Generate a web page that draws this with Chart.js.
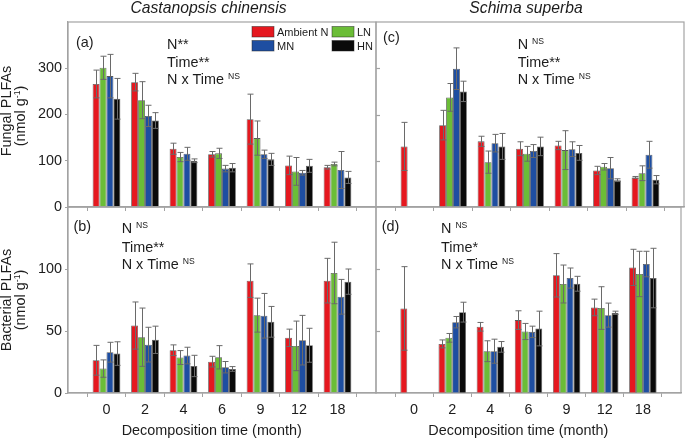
<!DOCTYPE html>
<html lang="en">
<head>
<meta charset="UTF-8">
<title>Fungal and bacterial PLFAs during decomposition</title>
<script src="https://cdn.jsdelivr.net/npm/chart.js"></script>
<style>
  body, html { margin: 0; padding: 0; width: 685px; height: 441px; overflow: hidden; background: #fff; }
  canvas { position: absolute; left: 0; top: 0; }
</style>
</head>
<body>
<canvas id="panelA" width="685" height="441"></canvas>
<canvas id="panelB" width="685" height="441"></canvas>
<canvas id="panelC" width="685" height="441"></canvas>
<canvas id="panelD" width="685" height="441"></canvas>
<script>
const months = ['0', '2', '4', '6', '9', '12', '18'];
const treatments = ['Ambient N', 'LN', 'MN', 'HN'];
const barColors = ['#e5181f', '#6bbd37', '#1e4ea1', '#0a0a0a'];
const fungalTicks = [0, 100, 200, 300];
const bacterialTicks = [0, 50, 100];

// (a) fungal PLFAs, Castanopsis chinensis
const fungalCcAmbient = [266, 270, 126, 114, 190, 90, 86];
const fungalCcAmbientSd = [30, 19, 12, 6, 54, 20, 4];
const fungalCcLN = [301, 231, 108, 116, 149, 77, 93];
const fungalCcLNSd = [25, 40, 10, 11, 37, 30, 4];
const fungalCcMN = [283, 197, 115, 83, 114, 74, 80];
const fungalCcMNSd = [47, 23, 14, 7, 9, 5, 40];
const fungalCcHN = [234, 187, 100, 85, 103, 89, 64];
const fungalCcHNSd = [44, 17, 4, 9, 13, 14, 13];

// (c) fungal PLFAs, Schima superba
const fungalSsAmbient = [131, 177, 142, 126, 133, 79, 64];
const fungalSsAmbientSd = [52, 32, 11, 15, 9, 9, 2];
const fungalSsLN = [null, 237, 97, 115, 123, 87, 73];
const fungalSsLNSd = [null, 30, 24, 16, 42, 7, 16];
const fungalSsMN = [null, 299, 138, 121, 125, 84, 113];
const fungalSsMNSd = [null, 45, 19, 14, 16, 23, 29];
const fungalSsHN = [null, 250, 131, 131, 117, 58, 59];
const fungalSsHNSd = [null, 22, 28, 20, 16, 3, 9];

// (b) bacterial PLFAs, Castanopsis chinensis
const bactCcAmbient = [26.4, 54.4, 34.5, 25.3, 90.6, 44.5, 90.6];
const bactCcAmbientSd = [12, 19, 4.3, 4.3, 13.5, 7, 18];
const bactCcLN = [19.7, 45, 28.6, 28.8, 62.8, 38, 96.8];
const bactCcLNSd = [7, 23.5, 5.6, 9.4, 13.7, 20, 24.8];
const bactCcMN = [32.9, 39, 30.2, 20.8, 62.3, 42.6, 77.6];
const bactCcMNSd = [8, 14, 6.7, 4.6, 18, 20, 14];
const bactCcHN = [31.8, 42.9, 21.8, 19.4, 57.4, 38.5, 89.8];
const bactCcHNSd = [9.5, 11, 8.6, 1.9, 12.4, 13.7, 10.2];

// (d) bacterial PLFAs, Schima superba
const bactSsAmbient = [68.2, 39.6, 53.4, 58.8, 94.9, 69, 101.3];
const bactSsAmbientSd = [33.7, 3.2, 3.5, 7.5, 17.5, 6.7, 14.6];
const bactSsLN = [null, 44.5, 33.7, 49.6, 87.9, 68.5, 96];
const bactSsLNSd = [null, 3.5, 8.4, 6.5, 15.3, 17.2, 18.3];
const bactSsMN = [null, 57.1, 33.7, 49.3, 92.7, 62.8, 104];
const bactSsMNSd = [null, 4.6, 9.7, 4.6, 8.1, 9.7, 10.3];
const bactSsHN = [null, 65.2, 37.2, 52, 88.1, 64.7, 92.7];
const bactSsHNSd = [null, 8, 4.3, 14, 6, 1.3, 24];

const FONT = '"Liberation Sans", Arial, Helvetica, sans-serif';
const FRAME = '#a3a3a3';
const INK = '#1c1c1c';
Chart.defaults.font.family = FONT;

// empty category at each end so the groups sit one slot in from the frame
const pad = arr => [null, ...arr, null];

function makeDatasets(means, sds) {
  return treatments.map((t, i) => ({
    label: t,
    data: pad(means[i]),
    sd: pad(sds[i]),
    backgroundColor: barColors[i],
    borderColor: 'rgba(35,35,35,0.75)',
    borderWidth: 0.8,
    categoryPercentage: 0.72,
    barPercentage: 1
  }));
}

// error bars (mean +/- sd) drawn with the y scale
const errorBars = {
  id: 'errorBars',
  afterDatasetsDraw(chart) {
    const ctx = chart.ctx;
    const y = chart.scales.y;
    ctx.save();
    ctx.strokeStyle = '#6a6a6a';
    ctx.lineWidth = 1;
    chart.data.datasets.forEach((ds, i) => {
      chart.getDatasetMeta(i).data.forEach((bar, j) => {
        const v = ds.data[j], e = ds.sd[j];
        if (v == null || e == null) return;
        const x = Math.round(bar.x) + 0.5;
        const top = y.getPixelForValue(v + e);
        const bot = y.getPixelForValue(Math.max(v - e, 0));
        ctx.beginPath();
        ctx.moveTo(x, top); ctx.lineTo(x, bot);
        ctx.moveTo(x - 3, top); ctx.lineTo(x + 3, top);
        ctx.moveTo(x - 3, bot); ctx.lineTo(x + 3, bot);
        ctx.stroke();
      });
    });
    ctx.restore();
  }
};

// box around each panel, inward ticks on the shared border
const frame = {
  id: 'frame',
  afterDraw(chart, args, opts) {
    const ctx = chart.ctx, a = chart.chartArea, y = chart.scales.y;
    ctx.save();
    ctx.strokeStyle = FRAME;
    ctx.lineWidth = 1.2;
    ctx.strokeRect(a.left, a.top, a.right - a.left, a.bottom - a.top);
    (opts.innerTicks || []).forEach(v => {
      const py = Math.round(y.getPixelForValue(v)) + 0.5;
      ctx.beginPath();
      ctx.moveTo(a.left, py); ctx.lineTo(a.left + 4, py);
      ctx.stroke();
    });
    ctx.restore();
  }
};

// free text: "abc ^{sup}" marks a superscript
const panelText = {
  id: 'panelText',
  afterDraw(chart, args, opts) {
    const ctx = chart.ctx;
    (opts.items || []).forEach(it => {
      const size = it.size || 14.4;
      const style = it.italic ? 'italic ' : '';
      const parts = it.text.split(/\^\{(.*?)\}/).map((t, k) => ({ t, sup: k % 2 === 1 }));
      ctx.save();
      ctx.fillStyle = INK;
      ctx.textBaseline = 'alphabetic';
      ctx.textAlign = 'left';
      ctx.translate(it.x, it.y);
      if (it.rotate) ctx.rotate(-Math.PI / 2);
      let w = 0;
      parts.forEach(p => {
        ctx.font = style + (p.sup ? size * 0.6 : size) + 'px ' + FONT;
        p.w = ctx.measureText(p.t).width;
        w += p.w;
      });
      let x = it.center ? -w / 2 : 0;
      parts.forEach(p => {
        ctx.font = style + (p.sup ? size * 0.6 : size) + 'px ' + FONT;
        ctx.fillText(p.t, x, p.sup ? -size * 0.38 : 0);
        x += p.w;
      });
      ctx.restore();
    });
  }
};

// legend inside panel (a)
const boxLegend = {
  id: 'boxLegend',
  afterDraw(chart, args, opts) {
    if (!opts.show) return;
    const ctx = chart.ctx;
    const spots = [[252, 26.5, 36], [332, 26.5, 36], [252, 40.5, 49.5], [332, 40.5, 49.5]];
    ctx.save();
    chart.data.datasets.forEach((ds, i) => {
      const [bx, by, base] = spots[i];
      ctx.fillStyle = ds.backgroundColor;
      ctx.fillRect(bx, by, 22, 10.5);
      ctx.strokeStyle = 'rgba(35,35,35,0.6)';
      ctx.lineWidth = 0.8;
      ctx.strokeRect(bx, by, 22, 10.5);
      ctx.fillStyle = INK;
      ctx.font = '11px ' + FONT;
      ctx.fillText(ds.label, bx + 25, base);
    });
    ctx.restore();
  }
};

function makeChart(id, p) {
  return new Chart(document.getElementById(id), {
    type: 'bar',
    data: { labels: ['', ...months, ''], datasets: p.datasets },
    plugins: [errorBars, frame, panelText, boxLegend],
    options: {
      responsive: false,
      animation: false,
      layout: { padding: p.padding },
      plugins: {
        legend: { display: false },
        tooltip: { enabled: false },
        frame: { innerTicks: p.innerTicks },
        panelText: { items: p.texts },
        boxLegend: { show: !!p.legend }
      },
      scales: {
        x: {
          type: 'category',
          offset: false,
          grid: { drawOnChartArea: false, color: FRAME, tickLength: 4, lineWidth: 1 },
          border: { color: FRAME, width: 1.2 },
          ticks: { display: p.xLabels, font: { size: 14.4 }, color: INK, padding: 4, autoSkip: false, maxRotation: 0 },
          afterFit: s => { s.height = p.xHeight; }
        },
        y: {
          display: p.yLabels,
          min: 0,
          max: p.yMax,
          afterBuildTicks: s => { s.ticks = p.yTicks.map(v => ({ value: v })); },
          grid: { drawOnChartArea: false, color: FRAME, tickLength: 3, lineWidth: 1 },
          border: { color: FRAME, width: 1.2 },
          ticks: { font: { size: 14.4 }, color: INK, padding: 3 },
          afterFit: s => { s.width = p.yWidth; }
        }
      }
    }
  });
}

makeChart('panelA', {
  datasets: makeDatasets([fungalCcAmbient, fungalCcLN, fungalCcMN, fungalCcHN],
                         [fungalCcAmbientSd, fungalCcLNSd, fungalCcMNSd, fungalCcHNSd]),
  padding: { left: 0, top: 22, right: 309, bottom: 234 },
  xLabels: false, xHeight: 0, yLabels: true, yWidth: 68,
  yMax: 400, yTicks: fungalTicks, legend: true,
  texts: [
    { text: 'Castanopsis chinensis', x: 208.5, y: 12.7, size: 15.7, italic: true, center: true },
    { text: 'Fungal PLFAs', x: 11.2, y: 111, rotate: true, center: true },
    { text: '(nmol g^{-1})', x: 25, y: 116, rotate: true, center: true },
    { text: '(a)', x: 76, y: 46.5 },
    { text: 'N**', x: 167, y: 49.3 },
    { text: 'Time**', x: 167, y: 67.3 },
    { text: 'N x Time ^{NS}', x: 167, y: 84 }
  ]
});

makeChart('panelC', {
  datasets: makeDatasets([fungalSsAmbient, fungalSsLN, fungalSsMN, fungalSsHN],
                         [fungalSsAmbientSd, fungalSsLNSd, fungalSsMNSd, fungalSsHNSd]),
  padding: { left: 376, top: 22, right: 1, bottom: 234 },
  xLabels: false, xHeight: 0, yLabels: false, yWidth: 0,
  yMax: 400, yTicks: fungalTicks, innerTicks: fungalTicks.slice(1),
  texts: [
    { text: 'Schima superba', x: 526, y: 12.7, size: 15.7, italic: true, center: true },
    { text: '(c)', x: 383, y: 41.5 },
    { text: 'N ^{NS}', x: 517.7, y: 49.3 },
    { text: 'Time**', x: 517.7, y: 67.3 },
    { text: 'N x Time ^{NS}', x: 517.7, y: 84 }
  ]
});

makeChart('panelB', {
  datasets: makeDatasets([bactCcAmbient, bactCcLN, bactCcMN, bactCcHN],
                         [bactCcAmbientSd, bactCcLNSd, bactCcMNSd, bactCcHNSd]),
  padding: { left: 0, top: 207, right: 309, bottom: 0 },
  xLabels: true, xHeight: 48, yLabels: true, yWidth: 68,
  yMax: 150, yTicks: bacterialTicks,
  texts: [
    { text: 'Bacterial PLFAs', x: 11.2, y: 300, rotate: true, center: true },
    { text: '(nmol g^{-1})', x: 25, y: 300, rotate: true, center: true },
    { text: '(b)', x: 73.5, y: 230.5 },
    { text: 'N ^{NS}', x: 121.7, y: 233.3 },
    { text: 'Time**', x: 121.7, y: 251.7 },
    { text: 'N x Time ^{NS}', x: 121.7, y: 269.3 },
    { text: 'Decomposition time (month)', x: 211.7, y: 435.3, center: true }
  ]
});

makeChart('panelD', {
  datasets: makeDatasets([bactSsAmbient, bactSsLN, bactSsMN, bactSsHN],
                         [bactSsAmbientSd, bactSsLNSd, bactSsMNSd, bactSsHNSd]),
  padding: { left: 376, top: 207, right: 1, bottom: 0 },
  xLabels: true, xHeight: 48, yLabels: false, yWidth: 0,
  yMax: 150, yTicks: bacterialTicks, innerTicks: bacterialTicks.slice(1),
  texts: [
    { text: '(d)', x: 381.7, y: 230.5 },
    { text: 'N ^{NS}', x: 441, y: 233.3 },
    { text: 'Time*', x: 441, y: 251.7 },
    { text: 'N x Time ^{NS}', x: 441, y: 269.3 },
    { text: 'Decomposition time (month)', x: 518.3, y: 435.3, center: true }
  ]
});
</script>
</body>
</html>
